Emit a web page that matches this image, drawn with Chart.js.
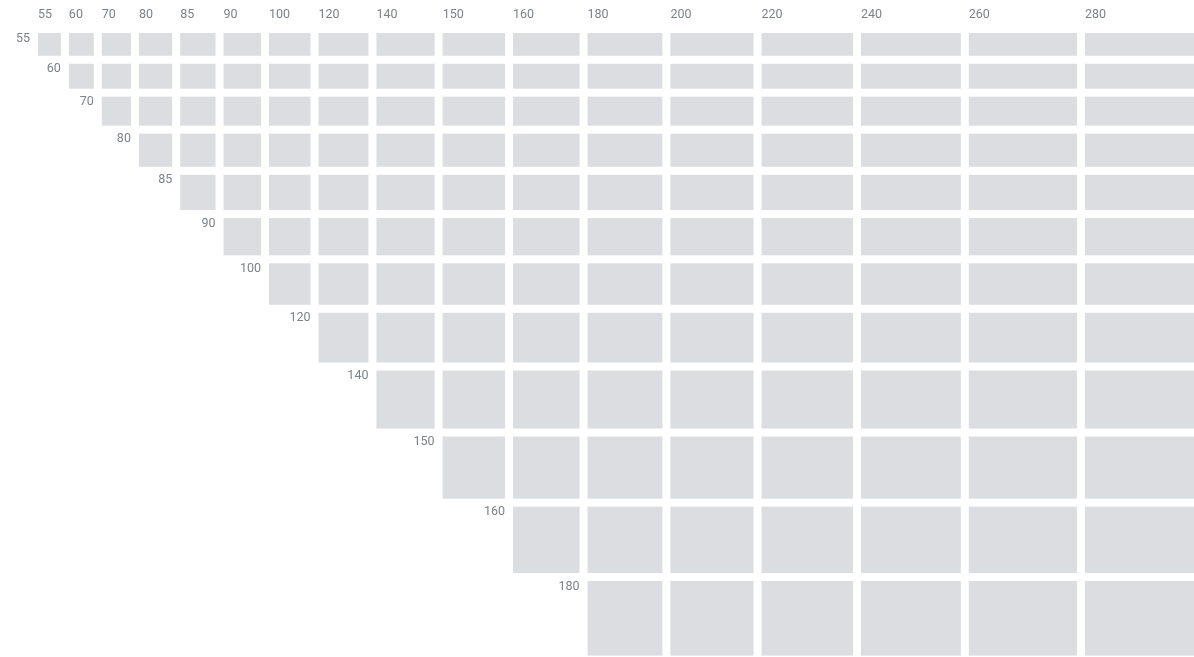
<!DOCTYPE html>
<html><head><meta charset="utf-8">
<script src="https://cdn.jsdelivr.net/npm/chart.js@4.4.0/dist/chart.umd.min.js"></script>
<style>html,body{margin:0;padding:0;background:#fff;overflow:hidden;} #wrap{width:1194px;height:657px;position:relative;}</style>
</head><body><div id="wrap"><canvas id="c"></canvas></div>
<script>
// ---- data ----
const columnLabels = ['55','60','70','80','85','90','100','120','140','150','160','180','200','220','240','260','280'];
const columnValues = [55,60,70,80,85,90,100,120,140,150,160,180,200,220,240,260,280];
const rowLabels = ['55','60','70','80','85','90','100','120','140','150','160','180'];
const rowValues = [55,60,70,80,85,90,100,120,140,150,160,180];

// ---- layout config ----
const GAP_PX = 8;
const PX_PER_UNIT_X = 0.4158; // used only to size the visible window
const PX_PER_UNIT_Y = 0.4144;
const LEFT = 38, TOP = 33, W = 1194, H = 657;
const CELL_COLOR = '#dcdde0';
const TEXT_COLOR = '#7d8287';
const FONT = '12.5px Roboto, "Open Sans", sans-serif';

function starts(vals, gap){ const s=[]; let acc=0; vals.forEach(v=>{ s.push(acc); acc+=v+gap; }); return s; }
const colStarts = starts(columnValues, GAP_PX / PX_PER_UNIT_X);
const rowStarts = starts(rowValues, GAP_PX / PX_PER_UNIT_Y);

const cells = [];
rowValues.forEach((rv, r) => {
  columnValues.forEach((cv, c) => {
    if (c >= r) {
      cells.push({x: colStarts[c] + cv/2, y: rowStarts[r] + rv/2,
        x0: colStarts[c], x1: colStarts[c] + cv, y0: rowStarts[r], y1: rowStarts[r] + rv});
    }
  });
});

const cellPlugin = {
  id: 'cells',
  afterDatasetsDraw(chart) {
    const ctx = chart.ctx, xs = chart.scales.x, ys = chart.scales.y;
    ctx.save();
    ctx.fillStyle = CELL_COLOR;
    chart.data.datasets[0].data.forEach(d => {
      const a = xs.getPixelForValue(d.x0), b = xs.getPixelForValue(d.x1);
      const t = ys.getPixelForValue(d.y0), u = ys.getPixelForValue(d.y1);
      ctx.fillRect(a, t, b - a, u - t);
    });
    ctx.font = FONT;
    ctx.fillStyle = TEXT_COLOR;
    ctx.textBaseline = 'middle';
    ctx.textAlign = 'left';
    columnLabels.forEach((l, i) => ctx.fillText(l, xs.getPixelForValue(colStarts[i]), 14.5));
    ctx.textAlign = 'right';
    rowLabels.forEach((l, i) => ctx.fillText(l, xs.getPixelForValue(colStarts[i]) - 8, ys.getPixelForValue(rowStarts[i]) + 5.5));
    ctx.restore();
  }
};

new Chart(document.getElementById('c'), {
  type: 'scatter',
  data: { datasets: [{ data: cells, pointRadius: 0, pointHoverRadius: 0 }] },
  options: {
    responsive: true, maintainAspectRatio: false, animation: false,
    layout: { padding: { left: LEFT, top: TOP, right: 0, bottom: 0 } },
    plugins: { legend: { display: false }, tooltip: { enabled: false } },
    scales: {
      x: { type: 'linear', display: false, min: 0, max: (W - LEFT) / PX_PER_UNIT_X },
      y: { type: 'linear', display: false, reverse: true, min: 0, max: (H - TOP) / PX_PER_UNIT_Y }
    }
  },
  plugins: [cellPlugin]
});
</script>
</body></html>
